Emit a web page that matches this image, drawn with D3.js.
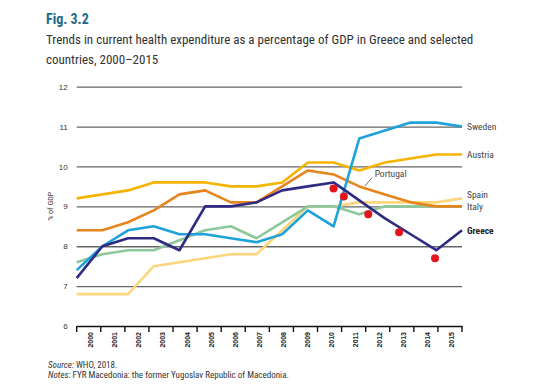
<!DOCTYPE html>
<html>
<head>
<meta charset="utf-8">
<script src="https://d3js.org/d3.v7.min.js"></script>
<style>
  body { margin: 0; background: #fff; }
  text { font-family: "Liberation Sans Narrow", "Roboto Condensed", "Arial Narrow", "Liberation Sans", sans-serif; }
</style>
</head>
<body>
<div id="chart-area"></div>
<script>
// values
let years = [2000, 2001, 2002, 2003, 2004, 2005, 2006, 2007, 2008, 2009, 2010, 2011, 2012, 2013, 2014, 2015];
let greece   = [7.2, 8.0, 8.2, 8.2, 7.9, 9.0, 9.0, 9.1, 9.4, 9.5, 9.6, 9.15, 8.7, 8.3, 7.9, 8.4];
let sweden   = [7.4, 8.0, 8.4, 8.5, 8.3, 8.3, 8.2, 8.1, 8.3, 8.9, 8.5, 10.7, 10.9, 11.1, 11.1, 11.0];
let austria  = [9.2, 9.3, 9.4, 9.6, 9.6, 9.6, 9.5, 9.5, 9.6, 10.1, 10.1, 9.9, 10.1, 10.2, 10.3, 10.3];
let portugal = [8.4, 8.4, 8.6, 8.9, 9.3, 9.4, 9.1, 9.1, 9.5, 9.9, 9.8, 9.5, 9.3, 9.1, 9.0, 9.0];
let italy    = [7.6, 7.8, 7.9, 7.9, 8.15, 8.4, 8.5, 8.2, 8.6, 9.0, 9.0, 8.8, 9.0, 9.0, 9.0, 9.0];
let spain    = [6.8, 6.8, 6.8, 7.5, 7.6, 7.7, 7.8, 7.8, 8.4, 9.0, 9.0, 9.1, 9.1, 9.1, 9.1, 9.2];
let dotYears  = [2010.0, 2010.4, 2011.35, 2012.55, 2013.95];
let dotValues = [9.45, 9.25, 8.8, 8.35, 7.7];
let yTicks = [6, 7, 8, 9, 10, 11, 12];

let series = [
  { name: "Spain",    values: spain,    color: "#fdd67c" },
  { name: "Italy",    values: italy,    color: "#8dc89b" },
  { name: "Portugal", values: portugal, color: "#e8841c" },
  { name: "Austria",  values: austria,  color: "#f6b400" },
  { name: "Sweden",   values: sweden,   color: "#1ea2dc" },
  { name: "Greece",   values: greece,   color: "#2f2a82" }
];

let W = 555, H = 385;
let plotLeft = 76.7, plotRight = 462, plotTop = 86.7, plotBottom = 326;

let svg = d3.select("#chart-area").append("svg")
  .attr("width", W)
  .attr("height", H);

let x = d3.scaleLinear().domain([2000, 2015]).range([plotLeft, plotRight]);
let xBand = d3.scaleBand().domain(years).range([plotLeft, plotRight]).padding(0);
let y = d3.scaleLinear().domain([6, 12]).range([plotBottom, plotTop]);

// titles
svg.append("text").attr("x", 46).attr("y", 24)
  .attr("font-size", "14px").attr("font-weight", "bold").attr("fill", "#1e6a8c")
  .text("Fig. 3.2");
svg.append("text").attr("x", 46).attr("y", 44)
  .attr("font-size", "13px").attr("fill", "#333")
  .text("Trends in current health expenditure as a percentage of GDP in Greece and selected");
svg.append("text").attr("x", 46).attr("y", 64)
  .attr("font-size", "13px").attr("fill", "#333")
  .text("countries, 2000\u20132015");

// gridlines
let grid = svg.append("g")
  .attr("transform", "translate(" + plotLeft + ",0)")
  .call(d3.axisLeft(y).tickValues(yTicks.slice(1)).tickSize(-(plotRight - plotLeft)).tickFormat(""));
grid.select(".domain").remove();
grid.selectAll("line").attr("stroke", "#666").attr("stroke-width", 1.3);

// y tick labels
let yAxis = svg.append("g")
  .attr("transform", "translate(" + (plotLeft - 6) + ",0)")
  .call(d3.axisLeft(y).tickValues(yTicks).tickSize(0).tickFormat(d3.format("d")));
yAxis.select(".domain").remove();
yAxis.selectAll("text").attr("font-size", "8px").attr("fill", "#333")
  .style("font-family", "'Liberation Sans', sans-serif");

svg.append("text")
  .attr("transform", "translate(53," + y(9) + ") rotate(-90)")
  .attr("text-anchor", "middle")
  .attr("font-size", "8px").attr("fill", "#444")
  .text("% of GDP");

// x axis
let xAxis = svg.append("g")
  .attr("transform", "translate(0," + plotBottom + ")")
  .call(d3.axisBottom(xBand).tickSize(0).tickPadding(0));
xAxis.select(".domain").attr("stroke", "#111").attr("stroke-width", 1.6);
xAxis.selectAll("text")
  .attr("transform", "rotate(-90)")
  .attr("x", -6).attr("y", 2)
  .attr("dy", "0.35em")
  .attr("text-anchor", "end")
  .attr("font-size", "7px").attr("font-weight", "bold").attr("fill", "#222")
  .style("font-family", "'Liberation Sans', sans-serif");
xAxis.selectAll(".edge")
  .data(years.map(d => xBand(d)).concat([plotRight]))
  .enter().append("line")
  .attr("x1", d => d).attr("x2", d => d)
  .attr("y1", 0).attr("y2", 6)
  .attr("stroke", "#111").attr("stroke-width", 1.4);

// lines
let line = d3.line()
  .x((d, i) => x(years[i]))
  .y(d => y(d));

svg.selectAll(".series").data(series).enter()
  .append("path")
  .attr("class", "series")
  .attr("d", d => line(d.values))
  .attr("fill", "none")
  .attr("stroke", d => d.color)
  .attr("stroke-width", 2.6)
  .attr("stroke-linejoin", "round");

// red dots
svg.selectAll(".dot").data(dotYears).enter()
  .append("circle")
  .attr("cx", d => x(d))
  .attr("cy", (d, i) => y(dotValues[i]))
  .attr("r", 4)
  .attr("fill", "#e5141c");

// end labels
let labels = [
  { name: "Sweden",  value: 11.0, bold: false },
  { name: "Austria", value: 10.3, bold: false },
  { name: "Spain",   value: 9.3,  bold: false },
  { name: "Italy",   value: 9.0,  bold: false },
  { name: "Greece",  value: 8.4,  bold: true }
];
svg.selectAll(".lab").data(labels).enter()
  .append("text")
  .attr("x", plotRight + 5)
  .attr("y", d => y(d.value))
  .attr("dy", "0.35em")
  .attr("font-size", "9.5px")
  .attr("font-weight", d => d.bold ? "bold" : "normal")
  .attr("fill", d => d.bold ? "#222" : "#444")
  .text(d => d.name);

// Portugal callout
svg.append("line")
  .attr("x1", x(2011.22)).attr("y1", y(9.51))
  .attr("x2", x(2011.5)).attr("y2", y(9.72))
  .attr("stroke", "#444").attr("stroke-width", 0.8);
svg.append("text")
  .attr("x", x(2011.6)).attr("y", y(9.73))
  .attr("font-size", "9.5px").attr("fill", "#444")
  .text("Portugal");

// notes
let src = svg.append("text").attr("x", 48).attr("y", 368)
  .attr("font-size", "9px").attr("fill", "#333");
src.append("tspan").attr("font-style", "italic").text("Source:");
src.append("tspan").text(" WHO, 2018.");
let notes = svg.append("text").attr("x", 48).attr("y", 378)
  .attr("font-size", "9px").attr("fill", "#333");
notes.append("tspan").attr("font-style", "italic").text("Notes:");
notes.append("tspan").text(" FYR Macedonia: the former Yugoslav Republic of Macedonia.");
</script>
</body>
</html>
